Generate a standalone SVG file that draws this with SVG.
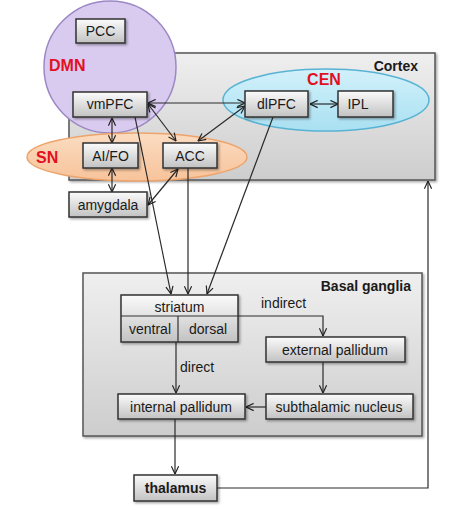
<svg xmlns="http://www.w3.org/2000/svg" width="474" height="510" viewBox="0 0 474 510">
<defs>
<linearGradient id="gBox" x1="0" y1="0" x2="0" y2="1">
<stop offset="0" stop-color="#fbfbfb"/><stop offset="1" stop-color="#c2c2c2"/>
</linearGradient>
<linearGradient id="gReg" x1="0" y1="0" x2="0" y2="1">
<stop offset="0" stop-color="#efefef"/><stop offset="1" stop-color="#cdcdcd"/>
</linearGradient>
<linearGradient id="gSN" x1="0" y1="0" x2="0" y2="1">
<stop offset="0" stop-color="#fbdcc2"/><stop offset="1" stop-color="#f7c39a"/>
</linearGradient>
<linearGradient id="gCEN" x1="0" y1="0" x2="0" y2="1">
<stop offset="0" stop-color="#d2f1fb"/><stop offset="1" stop-color="#a9e0f2"/>
</linearGradient>
<filter id="sh" x="-10%" y="-10%" width="130%" height="140%">
<feDropShadow dx="1.5" dy="1.5" stdDeviation="1" flood-color="#000" flood-opacity="0.35"/>
</filter>
<marker id="ah" viewBox="0 0 10 10" refX="9.5" refY="5" markerWidth="9" markerHeight="9" markerUnits="userSpaceOnUse" orient="auto-start-reverse">
<path d="M1,1 L9.5,5 L1,9" fill="none" stroke="#222" stroke-width="1.3"/>
</marker>
</defs>
<style>
.box{fill:url(#gBox);stroke:#333;stroke-width:1.5;filter:url(#sh)}
.reg{fill:url(#gReg);stroke:#555;stroke-width:1.5;filter:url(#sh)}
.t{font-family:"Liberation Sans",Arial,sans-serif;font-size:14px;fill:#1a1a1a;text-anchor:middle}
.b{font-family:"Liberation Sans",Arial,sans-serif;font-size:14px;font-weight:bold;fill:#1a1a1a}
.red{font-family:"Liberation Sans",Arial,sans-serif;font-size:16px;font-weight:bold;fill:#e3101f}
.c{fill:none;stroke:#2a2a2a;stroke-width:1.2}
.a{marker-end:url(#ah)}
.d{marker-start:url(#ah);marker-end:url(#ah)}
</style>
<rect width="474" height="510" fill="#fff"/>
<g id="cortex">
<rect class="reg" x="69" y="53" width="366" height="127"/>
<text class="b" x="418" y="71" text-anchor="end">Cortex</text>
</g>
<g id="basal-ganglia">
<rect class="reg" x="83" y="273" width="339" height="163"/>
<text class="b" x="411" y="291" text-anchor="end">Basal ganglia</text>
</g>
<g id="DMN">
<circle cx="110" cy="67" r="66" fill="#d9cbef" stroke="#9c88c4" stroke-width="1.5"/>
<text class="red" x="49" y="71">DMN</text>
</g>
<g id="SN">
<ellipse cx="137" cy="157" rx="110" ry="24" fill="url(#gSN)" stroke="#eda46c" stroke-width="1.5"/>
<text class="red" x="36" y="163">SN</text>
</g>
<g id="CEN">
<ellipse cx="326" cy="100" rx="103" ry="31" fill="url(#gCEN)" stroke="#58b3d3" stroke-width="1.5"/>
<text class="red" x="324" y="85" text-anchor="middle">CEN</text>
</g>
<g id="connectors">
<line class="c d" x1="148" y1="103" x2="245" y2="103"/>
<line class="c d" x1="148" y1="104" x2="176" y2="141"/>
<line class="c d" x1="245" y1="106" x2="198" y2="141"/>
<line class="c d" x1="310" y1="104" x2="338" y2="104"/>
<line class="c d" x1="112" y1="118" x2="112" y2="143"/>
<line class="c d" x1="112" y1="168" x2="112" y2="192"/>
<line class="c d" x1="178" y1="169" x2="148" y2="205"/>
<line class="c a" x1="135" y1="117" x2="171" y2="294"/>
<line class="c a" x1="188" y1="168" x2="188" y2="294"/>
<line class="c a" x1="273" y1="117" x2="207" y2="294"/>
<polyline class="c a" points="238,316 323,316 323,336"/>
<line class="c a" x1="176" y1="342" x2="176" y2="393"/>
<line class="c a" x1="323" y1="362" x2="323" y2="393"/>
<line class="c a" x1="266" y1="407" x2="246" y2="407"/>
<line class="c a" x1="175" y1="419" x2="175" y2="474"/>
<polyline class="c a" points="217,488 428,488 428,181"/>
<text class="t" x="180" y="372" style="text-anchor:start">direct</text>
<text class="t" x="261" y="308" style="text-anchor:start">indirect</text>
</g>
<g id="PCC"><rect class="box" x="76" y="19" width="49" height="24"/><text class="t" x="100.5" y="36">PCC</text></g>
<g id="vmPFC"><rect class="box" x="73" y="92" width="74" height="25"/><text class="t" x="110" y="109">vmPFC</text></g>
<g id="dlPFC"><rect class="box" x="245" y="91" width="63" height="26"/><text class="t" x="276.5" y="109">dlPFC</text></g>
<g id="IPL"><rect class="box" x="338" y="91" width="55" height="26"/><text class="t" x="358" y="109">IPL</text></g>
<g id="AIFO"><rect class="box" x="83" y="143" width="55" height="25"/><text class="t" x="110.5" y="161">AI/FO</text></g>
<g id="ACC"><rect class="box" x="163" y="143" width="54" height="25"/><text class="t" x="190" y="161">ACC</text></g>
<g id="amygdala"><rect class="box" x="69" y="192" width="78" height="25"/><text class="t" x="108" y="210">amygdala</text></g>
<g id="striatum">
<rect class="box" x="121" y="295" width="117" height="47"/>
<line x1="121" y1="316" x2="238" y2="316" stroke="#333" stroke-width="1.2"/>
<line x1="178" y1="316" x2="178" y2="342" stroke="#333" stroke-width="1.2"/>
<text class="t" x="179.5" y="312">striatum</text>
<text class="t" x="150" y="334">ventral</text>
<text class="t" x="208" y="334">dorsal</text>
</g>
<g id="external-pallidum"><rect class="box" x="266" y="337" width="139" height="25"/><text class="t" x="335" y="355">external pallidum</text></g>
<g id="internal-pallidum"><rect class="box" x="118" y="394" width="127" height="25"/><text class="t" x="181" y="412">internal pallidum</text></g>
<g id="subthalamic-nucleus"><rect class="box" x="266" y="394" width="147" height="25"/><text class="t" x="339" y="412">subthalamic nucleus</text></g>
<g id="thalamus"><rect class="box" x="134" y="475" width="83" height="26"/><text class="b" x="175.5" y="493" text-anchor="middle">thalamus</text></g>
</svg>
